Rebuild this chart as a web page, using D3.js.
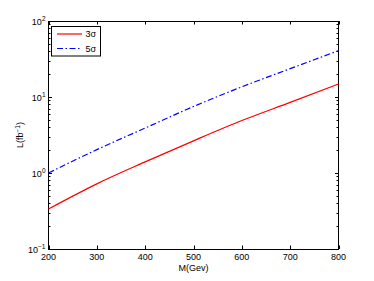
<!DOCTYPE html>
<html>
<head>
<script src="https://cdn.jsdelivr.net/npm/d3@7"></script>
<style>
  body { margin: 0; background: #fff; }
  text { font-family: "Liberation Sans", Arial, sans-serif; fill: #000; }
</style>
</head>
<body>
<script>
// masses (GeV) and required luminosity (fb^-1)
var masses = [200, 300, 400, 500, 600, 700, 800];
var lum3sigma = [0.336, 0.72, 1.40, 2.65, 4.9, 8.5, 14.8];
var lum5sigma = [1.0, 2.03, 3.9, 7.5, 13.6, 23.6, 40.7];
var xTicks = [200, 300, 400, 500, 600, 700, 800];
var yExps = [-1, 0, 1, 2];

var W = 374, H = 281;
var pLeft = 48.5, pRight = 338.5, pTop = 21, pBottom = 249;

var svg = d3.select("body").append("svg").attr("width", W).attr("height", H);

var x = d3.scaleLinear().domain([200, 800]).range([pLeft, pRight]);
var y = d3.scaleLog().domain([0.1, 100]).range([pBottom, pTop]);

// frame
svg.append("rect")
  .attr("x", pLeft).attr("y", pTop + 0.5)
  .attr("width", pRight - pLeft).attr("height", pBottom - pTop)
  .attr("fill", "none").attr("stroke", "#000").attr("stroke-width", 1);

// x ticks (inward, bottom and top)
xTicks.forEach(function (t) {
  var px = Math.round(x(t)) + 0.5;
  svg.append("line").attr("x1", px).attr("x2", px).attr("y1", pBottom).attr("y2", pBottom - 3.5).attr("stroke", "#000");
  svg.append("line").attr("x1", px).attr("x2", px).attr("y1", pTop).attr("y2", pTop + 3.5).attr("stroke", "#000");
  svg.append("text").attr("x", x(t)).attr("y", pBottom + 11)
    .attr("text-anchor", "middle").attr("font-size", 9).text(t);
});

// y ticks, major and minor
yExps.forEach(function (e) {
  var v = Math.pow(10, e);
  var py = Math.round(y(v)) + 0.5;
  svg.append("line").attr("x1", pLeft).attr("x2", pLeft + 3.5).attr("y1", py).attr("y2", py).attr("stroke", "#000");
  svg.append("line").attr("x1", pRight).attr("x2", pRight - 3.5).attr("y1", py).attr("y2", py).attr("stroke", "#000");
  var lab = svg.append("text").attr("x", pLeft - 3).attr("y", y(v) + 3.5)
    .attr("text-anchor", "end").attr("font-size", 9);
  lab.append("tspan").text("10");
  lab.append("tspan").attr("dy", -4).attr("font-size", 6.5).text(e < 0 ? "\u22121" : e);
  if (e < 2) {
    for (var k = 2; k <= 9; k++) {
      var my = Math.round(y(k * v)) + 0.5;
      svg.append("line").attr("x1", pLeft).attr("x2", pLeft + 2).attr("y1", my).attr("y2", my).attr("stroke", "#000");
      svg.append("line").attr("x1", pRight).attr("x2", pRight - 2).attr("y1", my).attr("y2", my).attr("stroke", "#000");
    }
  }
});

// curves
var line = d3.line()
  .x(function (d) { return x(d[0]); })
  .y(function (d) { return y(d[1]); })
  .curve(d3.curveMonotoneX);

svg.append("path")
  .datum(masses.map(function (m, i) { return [m, lum3sigma[i]]; }))
  .attr("d", line).attr("fill", "none").attr("stroke", "#ff0000").attr("stroke-width", 1.2);

svg.append("path")
  .datum(masses.map(function (m, i) { return [m, lum5sigma[i]]; }))
  .attr("d", line).attr("fill", "none").attr("stroke", "#0000ff").attr("stroke-width", 1.2)
  .attr("stroke-dasharray", "6,2.5,1.5,2.5");

// axis labels
svg.append("text").attr("x", (pLeft + pRight) / 2).attr("y", 271)
  .attr("text-anchor", "middle").attr("font-size", 9).text("M(Gev)");

var yl = svg.append("text").attr("transform", "translate(23," + (pTop + pBottom) / 2 + ") rotate(-90)")
  .attr("text-anchor", "middle").attr("font-size", 9);
yl.append("tspan").text("L(fb");
yl.append("tspan").attr("dy", -3.5).attr("font-size", 6.5).text("\u22121");
yl.append("tspan").attr("dy", 3.5).text(")");

// legend
var lg = svg.append("g");
lg.append("rect").attr("x", 51.5).attr("y", 26.5).attr("width", 49).attr("height", 29.5)
  .attr("fill", "#fff").attr("stroke", "#000");
lg.append("line").attr("x1", 57).attr("x2", 82).attr("y1", 34).attr("y2", 34)
  .attr("stroke", "#ff0000").attr("stroke-width", 1.2);
lg.append("line").attr("x1", 57).attr("x2", 82).attr("y1", 48.5).attr("y2", 48.5)
  .attr("stroke", "#0000ff").attr("stroke-width", 1.2).attr("stroke-dasharray", "6,2.5,1.5,2.5");
lg.append("text").attr("x", 85.5).attr("y", 37).attr("font-size", 9).text("3\u03c3");
lg.append("text").attr("x", 85.5).attr("y", 51.5).attr("font-size", 9).text("5\u03c3");
</script>
</body>
</html>
